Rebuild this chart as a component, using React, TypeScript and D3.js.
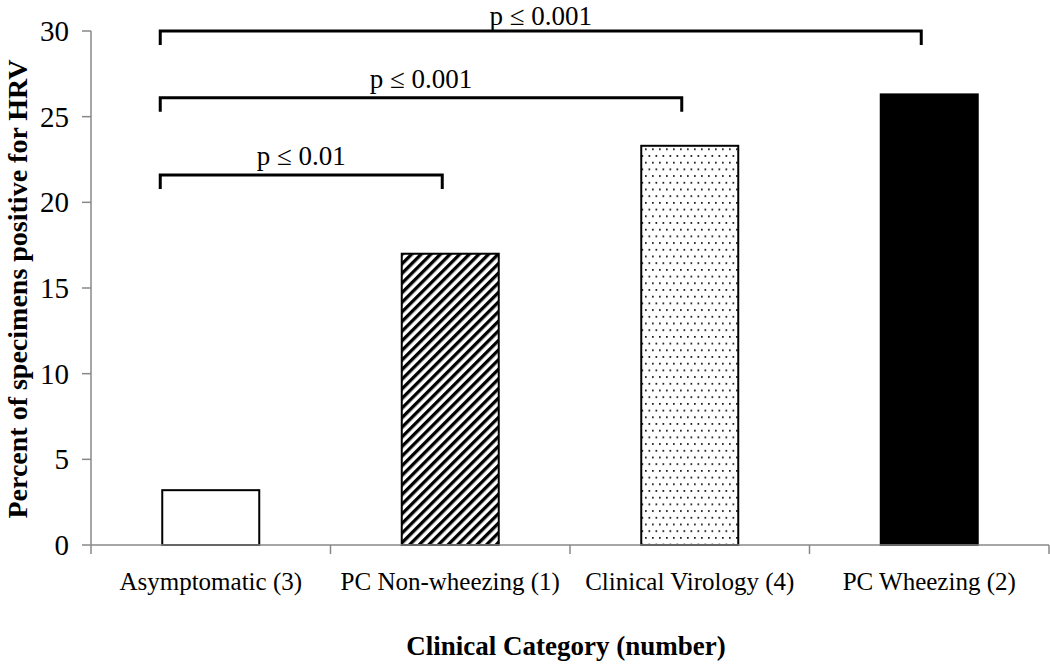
import React from "react";
import * as d3 from "d3";

const categories = ["Asymptomatic (3)", "PC Non-wheezing (1)", "Clinical Virology (4)", "PC Wheezing (2)"];
const values = [3.2, 17.0, 23.3, 26.3];
const fills = ["white", "url(#hatch)", "url(#dots)", "black"];
const yTicks = [0, 5, 10, 15, 20, 25, 30];
const brackets = [
  { from: 0, to: 1, y: 21.6, label: "p \u2264 0.01" },
  { from: 0, to: 2, y: 26.1, label: "p \u2264 0.001" },
  { from: 0, to: 3, y: 30.0, label: "p \u2264 0.001" },
];

const W = 1050, H = 667;
const left = 91, right = 1049, top = 31, bottom = 545;

export default function App() {
  const x = d3.scaleBand<string>().domain(categories).range([left, right]).padding(0);
  const y = d3.scaleLinear().domain([0, 30]).range([bottom, top]);
  const bw = x.bandwidth() * 0.405;
  const cx = (i: number) => (x(categories[i]) as number) + x.bandwidth() / 2;
  const font = "'Liberation Serif', 'Times New Roman', serif";
  const tickEdges = [...categories.map((c) => x(c) as number), right];
  return (
    <svg width={W} height={H} style={{ position: "absolute", left: 0, top: 0 }} fontFamily={font}>
      <defs>
        <pattern id="hatch" patternUnits="userSpaceOnUse" width="6.8" height="10" patternTransform="rotate(45)">
          <rect width="6.8" height="10" fill="white" />
          <rect x="0" y="0" width="3.3" height="10" fill="black" />
        </pattern>
        <pattern id="dots" patternUnits="userSpaceOnUse" width="7" height="13.4">
          <rect width="7" height="13.4" fill="white" />
          <rect x="1" y="1" width="1.7" height="1.7" fill="#111" />
          <rect x="4.5" y="7.7" width="1.7" height="1.7" fill="#111" />
        </pattern>
      </defs>
      <rect width={W} height={H} fill="white" />
      {/* bars */}
      {categories.map((c, i) => (
        <rect key={c} x={cx(i) - bw / 2} y={y(values[i])} width={bw} height={y(0) - y(values[i])}
          fill={fills[i]} stroke="black" strokeWidth={2} />
      ))}
      {/* y axis */}
      <line x1={left} x2={left} y1={top} y2={bottom} stroke="#888" strokeWidth={1.5} />
      {yTicks.map((t) => (
        <g key={t}>
          <line x1={left - 9} x2={left} y1={y(t)} y2={y(t)} stroke="#888" strokeWidth={1.5} />
          <text x={left - 22} y={y(t)} dy="0.35em" textAnchor="end" fontSize={29}>{t}</text>
        </g>
      ))}
      {/* x axis */}
      <line x1={left} x2={right} y1={bottom} y2={bottom} stroke="#888" strokeWidth={1.5} />
      {tickEdges.map((e, i) => (
        <line key={i} x1={e} x2={e} y1={bottom} y2={bottom + 9} stroke="#888" strokeWidth={1.5} />
      ))}
      {categories.map((c, i) => (
        <text key={c} x={cx(i)} y={590} textAnchor="middle" fontSize={25}>{c}</text>
      ))}
      {/* brackets */}
      {brackets.map((b, i) => {
        const x1 = cx(b.from) - bw / 2 - 2;
        const x2 = cx(b.to) - 8;
        const yy = y(b.y);
        const ly = Math.max(yy - 10, 25);
        return (
          <g key={i}>
            <path d={`M${x1},${yy + 14}V${yy}H${x2}V${yy + 14}`} fill="none" stroke="black" strokeWidth={3} />
            <text x={(x1 + x2) / 2} y={ly} textAnchor="middle" fontSize={27}>{b.label}</text>
          </g>
        );
      })}
      {/* axis titles */}
      <text x={566} y={655} textAnchor="middle" fontSize={27} fontWeight="bold">Clinical Category (number)</text>
      <text transform={`translate(27,289) rotate(-90)`} textAnchor="middle" fontSize={28} fontWeight="bold">
        Percent of specimens positive for HRV
      </text>
    </svg>
  );
}
